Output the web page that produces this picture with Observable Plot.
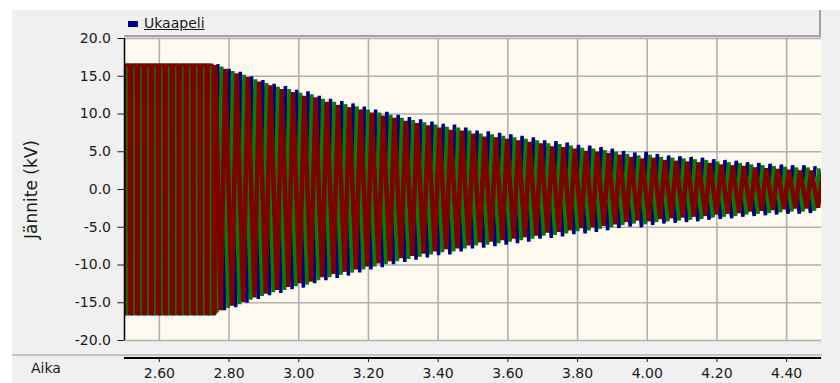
<!DOCTYPE html>
<html>
<head>
<meta charset="utf-8">
<script src="https://cdn.jsdelivr.net/npm/d3@7"></script>
<script src="https://cdn.jsdelivr.net/npm/@observablehq/plot@0.6"></script>
<style>
html,body{margin:0;padding:0;background:#fff;}
#wrap{position:relative;width:840px;height:383px;overflow:hidden;font-family:"DejaVu Sans",sans-serif;color:#1a1a1a;}
#panel{position:absolute;left:12px;top:10px;width:828px;height:373px;background:#f0f0f0;}
#legendbar{position:absolute;left:124px;top:10px;width:695px;height:25px;background:#f0f0f0;border-right:2px solid #a2a2a2;border-bottom:2px solid #a2a2a2;}
#sep{position:absolute;left:12px;top:354px;width:810px;height:2px;background:#c4c4c4;}
#xline{position:absolute;left:124px;top:357px;width:697px;height:1.5px;background:#000;}
#chart{position:absolute;left:0;top:0;}
#legend{position:absolute;left:128px;top:14px;font-size:14px;line-height:18px;white-space:nowrap;}
#legend .sw{display:inline-block;width:10px;height:6px;background:#00008b;margin-right:6px;vertical-align:1px;}
#legend .lb{text-decoration:underline;}
#aika{position:absolute;left:31px;top:360px;font-size:14px;line-height:17px;}
</style>
</head>
<body>
<div id="wrap">
  <div id="panel"></div>
  <div id="legendbar"></div>
  <div id="sep"></div>
  <div id="chart"></div>
  <div id="xline"></div>
  <div id="legend"><span class="sw"></span><span class="lb">Ukaapeli</span></div>
  <div id="aika">Aika</div>
</div>
<script>
// ---- data ----
const xTicks = [2.6, 2.8, 3.0, 3.2, 3.4, 3.6, 3.8, 4.0, 4.2, 4.4];
const yTicks = [-20, -15, -10, -5, 0, 5, 10, 15, 20];
const seriesNames = ["Ukaapeli A", "Ukaapeli B", "Ukaapeli C"];

// steady state before switching (50 Hz, flat envelope)
const steadyStart = 2.48;
const steadyPeriod = 0.02;
const steadyDwell = 0.0072;  // time spent at the negative peak in a plotted steady cycle
const steadyEdge = 0.0004;   // plotted transition between peaks (near vertical)
const steadyPeak = [16.5,16.5,16.5,16.5,16.5,16.5,16.5,16.5,16.5,16.5,16.5,16.5,16.5,16.5];

// decaying oscillation after switching: one peak value per visible cycle
const faultStart = 2.7677;   // first post-switching top peak of phase A
const faultPeriod = 0.03234; // apparent cycle length
const riseTime = 0.0132;     // bottom peak precedes the top peak by this much
const peakA = [16.6,16.0,15.6,15.0,14.5,14.0,13.7,13.2,13.0,12.4,12.0,
  11.7,11.4,11.0,10.6,10.3,9.9,9.6,9.3,9.0,
  8.7,8.6,8.2,7.8,7.7,7.5,7.3,7.1,6.9,6.5,6.4,6.2,5.9,
  5.8,
  5.6,5.4,5.1,4.9,5.0,4.7,4.5,4.4,4.3,4.2,4.0,3.9,3.8,3.6,3.5,3.4,3.3,3.2,3.2,3.1];
const peakB = [16.3,15.7,15.2,14.6,14.1,13.6,13.3,12.8,12.6,12.0,11.6,
  11.3,11.0,10.6,10.2,9.9,9.5,9.2,8.9,8.6,
  8.3,8.2,7.8,7.4,7.3,7.1,6.9,6.7,6.5,6.1,6.0,5.8,5.5,
  5.4,
  5.2,5.0,4.7,4.5,4.6,4.3,4.2,4.1,4.0,3.9,3.7,3.6,3.5,3.3,3.2,3.1,3.0,2.9,2.9,2.8];
const peakC = [16.0,15.4,14.9,14.3,13.8,13.3,12.9,12.4,12.2,11.6,11.2,
  10.9,10.6,10.2,9.8,9.5,9.1,8.8,8.5,8.2,
  7.9,7.8,7.4,7.0,6.9,6.7,6.5,6.3,6.1,5.7,5.6,5.4,5.1,
  5.0,
  4.8,4.6,4.3,4.1,4.2,3.9,3.8,3.7,3.6,3.5,3.3,3.2,3.1,2.9,2.8,2.7,2.6,2.5,2.5,2.4];
const phaseShift = [0, 1/3, 2/3];
const colors = ["#00008b", "#008000", "#800000"];
const steadyWidth = [3, 3, 3];
const faultWidth = [3.5, 3.8, 4.5];

// ---- build vertex tables from the read peaks ----
function steadyWave(shift, name) {
  const pts = [];
  const tEnd = faultStart + shift * faultPeriod - riseTime;
  steadyPeak.forEach((a, k) => {
    const t = steadyStart + (k + shift) * steadyPeriod;
    const seq = [[t, a], [t + steadyEdge, -a], [t + steadyDwell, -a], [t + steadyDwell + steadyEdge, a]];
    for (const [tt, v] of seq) if (tt < tEnd) pts.push({t: tt, v, name});
  });
  return pts;
}
function faultWave(peaks, shift, name, last) {
  const pts = [last];
  peaks.forEach((a, i) => {
    const t = faultStart + (i + shift) * faultPeriod;
    pts.push({t: t - riseTime, v: -a, name});
    pts.push({t, v: a, name});
  });
  return pts;
}
const allPeaks = [peakA, peakB, peakC];
const steadyTables = phaseShift.map((s, j) => steadyWave(s, seriesNames[j]));
const faultTables = allPeaks.map((p, j) => faultWave(p, phaseShift[j], seriesNames[j], steadyTables[j][steadyTables[j].length - 1]));

const lineMarks = [];
for (let j = 0; j < 3; j++) {
  lineMarks.push(Plot.line(steadyTables[j], {x: "t", y: "v", stroke: colors[j], strokeWidth: steadyWidth[j], strokeLinejoin: "bevel", strokeLinecap: "butt", clip: true}));
  lineMarks.push(Plot.line(faultTables[j], {x: "t", y: "v", stroke: colors[j], strokeWidth: faultWidth[j], strokeLinejoin: "bevel", strokeLinecap: "butt", clip: true}));
}

const chart = Plot.plot({
  width: 840,
  height: 383,
  marginLeft: 124,
  marginRight: 19,
  marginTop: 38,
  marginBottom: 43,
  style: {background: "transparent", fontFamily: "DejaVu Sans, sans-serif", fontSize: "14px", color: "#1a1a1a"},
  x: {domain: [2.5, 4.5]},
  y: {domain: [-20, 20]},
  marks: [
    Plot.frame({fill: "#fffaf0", stroke: null}),
    Plot.gridX(xTicks, {stroke: "#b0b0b0", strokeOpacity: 1, strokeWidth: 1.6}),
    Plot.gridY(yTicks, {stroke: "#b0b0b0", strokeOpacity: 1, strokeWidth: 1.6}),
    ...lineMarks,
    Plot.ruleX([2.5], {stroke: "#000", strokeWidth: 1.5}),
    Plot.axisY({ticks: yTicks, tickSize: 6.5, tickPadding: 7, tickFormat: d => d.toFixed(1), label: null}),
    Plot.axisY({ticks: [], tickSize: 0, label: "Jännite (kV)", labelAnchor: "center", labelArrow: false, labelOffset: 100, fontSize: 17}),
    Plot.axisX({ticks: xTicks, tickSize: 5, tickPadding: 6, dy: 17, tickFormat: d => d.toFixed(2), label: null})
  ]
});
document.getElementById("chart").appendChild(chart);
</script>
</body>
</html>
